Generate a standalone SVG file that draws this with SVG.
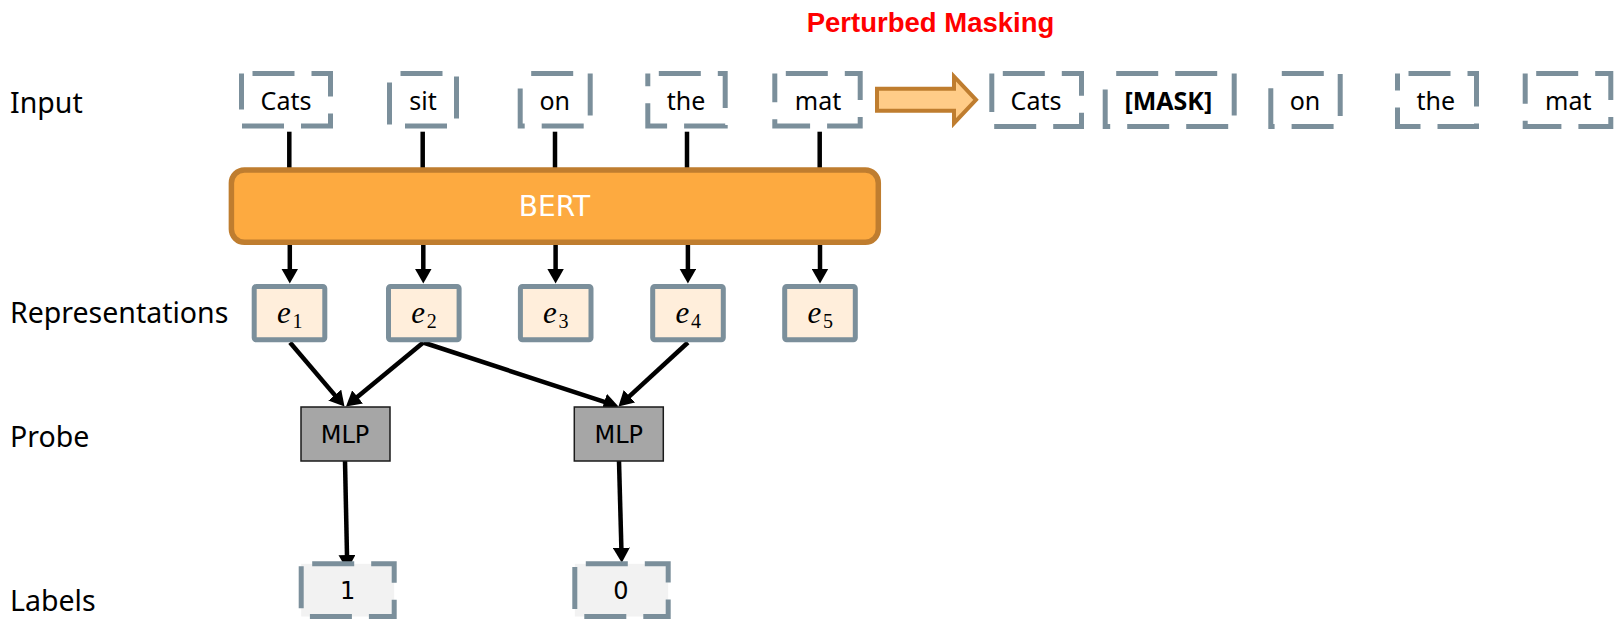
<svg xmlns="http://www.w3.org/2000/svg" width="1615" height="620" viewBox="0 0 1615 620">
  <style>
    .lbl { font-family: "Noto Sans", "Open Sans", sans-serif; font-size: 28.5px; fill: #000; }
    .tok { font-family: "Noto Sans", "Open Sans", sans-serif; font-size: 25px; fill: #000; text-anchor: middle; }
    .dj { font-family: "DejaVu Sans", sans-serif; fill: #000; text-anchor: middle; }
    .dash { fill: none; stroke: #7b8f9b; stroke-width: 5; stroke-dasharray: 42 17; stroke-dashoffset: 48; }
    .lab { fill: #f2f2f2; }
    .rep { fill: #ffeedb; stroke: #7b8f9b; stroke-width: 5; }
    .mlp { fill: #a6a6a6; stroke: #1a1a1a; stroke-width: 1.5; }
    .ev { font-family: "Liberation Serif", serif; font-style: italic; font-size: 31px; fill: #000; }
    .sub { font-family: "Liberation Serif", serif; font-size: 20px; fill: #000; }
    .wire { stroke: #000; stroke-width: 4.5; fill: none; }
    .arr { stroke: #000; stroke-width: 4.5; fill: none; marker-end: url(#head); }
  </style>
  <defs>
    <marker id="head" markerUnits="userSpaceOnUse" viewBox="0 0 15 17" refX="5" refY="8.5" markerWidth="15" markerHeight="17" orient="auto">
      <path d="M0,0 L15,8.5 L0,17 z" fill="#000"/>
    </marker>
  </defs>

  <rect width="1615" height="620" fill="#fff"/>

  <!-- title -->
  <text x="930.5" y="31.5" font-family="Liberation Sans, Arial, sans-serif" font-weight="bold" font-size="27.5" fill="#ff0000" text-anchor="middle">Perturbed Masking</text>

  <!-- row labels -->
  <text class="lbl" x="10" y="113.3">Input</text>
  <text class="lbl" x="10" y="322.7">Representations</text>
  <text class="lbl" x="10" y="446.7">Probe</text>
  <text class="lbl" x="10" y="611">Labels</text>

  <!-- connectors -->
  <g id="connectors">
    <line class="wire" x1="289.3" y1="131.7" x2="289.3" y2="168"/>
    <line class="wire" x1="422.7" y1="131.7" x2="422.7" y2="168"/>
    <line class="wire" x1="555" y1="131.7" x2="555" y2="168"/>
    <line class="wire" x1="687" y1="131.7" x2="687" y2="168"/>
    <line class="wire" x1="819.7" y1="131.7" x2="819.7" y2="168"/>

    <line class="arr" x1="289.8" y1="244" x2="289.8" y2="273.5"/>
    <line class="arr" x1="423.3" y1="244" x2="423.3" y2="273.5"/>
    <line class="arr" x1="555.6" y1="244" x2="555.6" y2="273.5"/>
    <line class="arr" x1="687.9" y1="244" x2="687.9" y2="273.5"/>
    <line class="arr" x1="820" y1="244" x2="820" y2="273.5"/>

    <line class="arr" x1="290" y1="342.5" x2="338" y2="398.9"/>
    <line class="arr" x1="423.3" y1="342.5" x2="353.7" y2="400.1"/>
    <line class="arr" x1="423.3" y1="342.5" x2="609" y2="403.4"/>
    <line class="arr" x1="687.9" y1="342.5" x2="625.8" y2="399.7"/>

    <line class="arr" x1="345" y1="461" x2="347.1" y2="560"/>
    <line class="arr" x1="619" y1="461" x2="621.5" y2="552.7"/>
  </g>

  <!-- input tokens -->
  <g id="in-cats"><rect class="dash" x="241.5" y="73.5" width="89" height="52.5"/><text class="tok" x="286" y="109.5">Cats</text></g>
  <g id="in-sit"><rect class="dash" x="389.5" y="73.5" width="67" height="52.5"/><text class="tok" x="423" y="109.5">sit</text></g>
  <g id="in-on"><rect class="dash" x="520.2" y="73.5" width="70" height="52.5"/><text class="tok" x="554.7" y="109.5">on</text></g>
  <g id="in-the"><rect class="dash" x="647.8" y="73.5" width="77.4" height="52.5"/><text class="tok" x="686" y="109.5">the</text></g>
  <g id="in-mat"><rect class="dash" x="774.8" y="73.5" width="85.4" height="52.5"/><text class="tok" x="818" y="109.5">mat</text></g>

  <!-- perturbation arrow -->
  <g id="perturb-arrow">
    <polygon points="877,88.7 954,88.7 954,76.5 976,99.8 954,123.2 954,110.7 877,110.7" fill="#ffcc88" stroke="#bf7d2f" stroke-width="4" stroke-linejoin="miter"/>
  </g>

  <!-- masked tokens -->
  <g id="mk-cats"><rect class="dash" x="991.8" y="73.5" width="89.7" height="53"/><text class="tok" x="1036" y="109.5">Cats</text></g>
  <g id="mk-mask"><rect class="dash" x="1105.2" y="73.5" width="129" height="53"/><text class="tok" x="1168.3" y="109.5" font-weight="bold" font-size="24">[MASK]</text></g>
  <g id="mk-on"><rect class="dash" x="1270.8" y="73.5" width="69.4" height="53"/><text class="tok" x="1305" y="109.5">on</text></g>
  <g id="mk-the"><rect class="dash" x="1397.5" y="73.5" width="79" height="53"/><text class="tok" x="1435.7" y="109.5">the</text></g>
  <g id="mk-mat"><rect class="dash" x="1525.2" y="73.5" width="85.6" height="53"/><text class="tok" x="1568.3" y="109.5">mat</text></g>

  <!-- encoder -->
  <g id="bert">
    <rect x="231.4" y="170" width="646.9" height="72.3" rx="13" fill="#fdaa40" stroke="#bf7d2f" stroke-width="5.5"/>
    <text class="dj" x="554.5" y="216" font-size="28" fill="#ffffff" style="fill:#fff">BERT</text>
  </g>

  <!-- representations -->
  <g id="e1"><rect class="rep" x="254.2" y="286.5" width="70.6" height="53.3" rx="2"/><text class="ev" x="277" y="323.3">e</text><text class="sub" x="292.5" y="328.3">1</text></g>
  <g id="e2"><rect class="rep" x="388.5" y="286.5" width="70.6" height="53.3" rx="2"/><text class="ev" x="411.3" y="323.3">e</text><text class="sub" x="426.8" y="328.3">2</text></g>
  <g id="e3"><rect class="rep" x="520.4" y="286.5" width="70.6" height="53.3" rx="2"/><text class="ev" x="543.1" y="323.3">e</text><text class="sub" x="558.6" y="328.3">3</text></g>
  <g id="e4"><rect class="rep" x="652.7" y="286.5" width="70.6" height="53.3" rx="2"/><text class="ev" x="675.5" y="323.3">e</text><text class="sub" x="691" y="328.3">4</text></g>
  <g id="e5"><rect class="rep" x="784.7" y="286.5" width="70.6" height="53.3" rx="2"/><text class="ev" x="807.5" y="323.3">e</text><text class="sub" x="823" y="328.3">5</text></g>

  <!-- probes -->
  <g id="mlp1"><rect class="mlp" x="301" y="407" width="89" height="54"/><text class="dj" x="345" y="443" font-size="24">MLP</text></g>
  <g id="mlp2"><rect class="mlp" x="574.3" y="407" width="89" height="54"/><text class="dj" x="618.8" y="443" font-size="24">MLP</text></g>

  <!-- labels -->
  <g id="label1"><rect class="lab" x="301.2" y="563.8" width="93" height="52.7"/><rect class="dash" x="301.2" y="563.8" width="93" height="52.7"/><text class="dj" x="347.7" y="599.3" font-size="24">1</text></g>
  <g id="label0"><rect class="lab" x="574.8" y="563.8" width="93.4" height="52.7"/><rect class="dash" x="574.8" y="563.8" width="93.4" height="52.7"/><text class="dj" x="620.8" y="599.3" font-size="24">0</text></g>
</svg>
